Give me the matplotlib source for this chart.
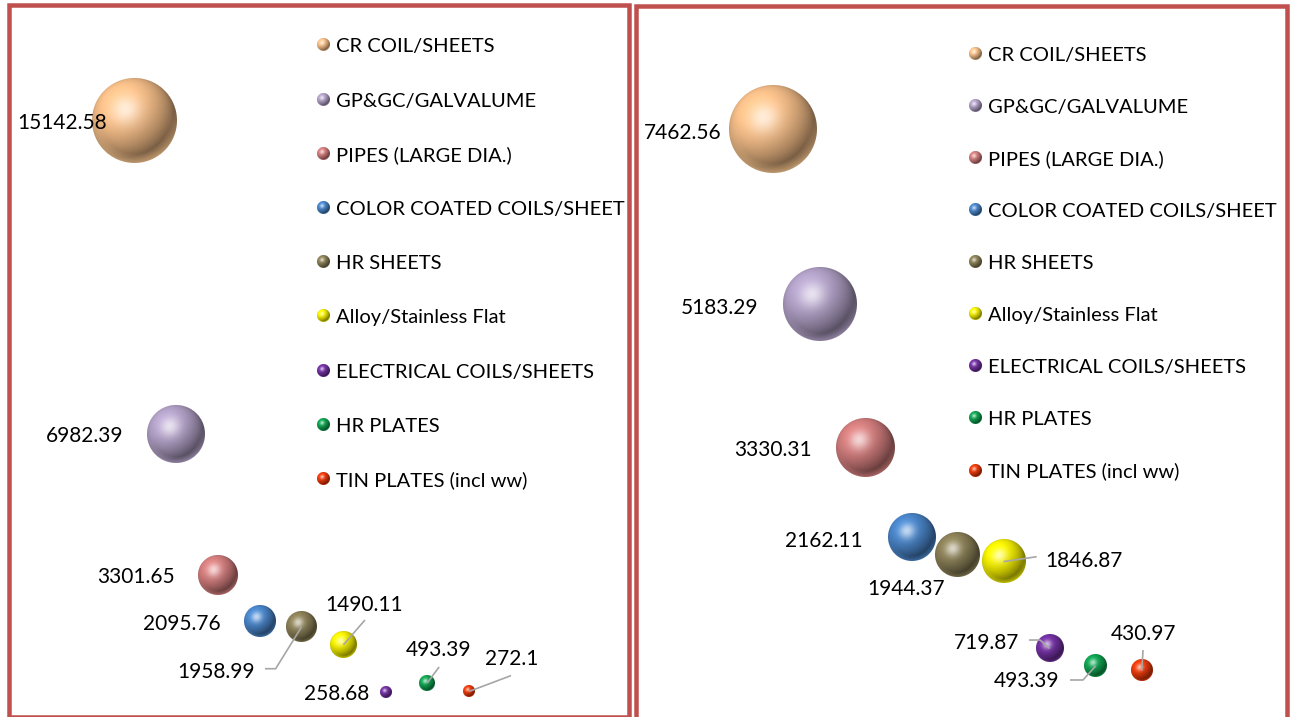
import numpy as np
import matplotlib
matplotlib.use("Agg")
import matplotlib.pyplot as plt
import matplotlib.colors as mcolors
import matplotlib.transforms as mtransforms
from matplotlib.lines import Line2D
from matplotlib.offsetbox import OffsetImage, AnnotationBbox
from matplotlib.patches import Rectangle

plt.rcParams["font.family"] = ["Lato", "DejaVu Sans"]

categories = [
    "CR COIL/SHEETS",
    "GP&GC/GALVALUME",
    "PIPES (LARGE DIA.)",
    "COLOR COATED COILS/SHEET",
    "HR SHEETS",
    "Alloy/Stainless Flat",
    "ELECTRICAL COILS/SHEETS",
    "HR PLATES",
    "TIN PLATES (incl ww)",
]
left_values = [15142.58, 6982.39, 3301.65, 2095.76, 1958.99, 1490.11, 258.68, 493.39, 272.1]
right_values = [7462.56, 5183.29, 3330.31, 2162.11, 1944.37, 1846.87, 719.87, 493.39, 430.97]

colors = ["#F8C08A", "#B3A2C8", "#D47E7E", "#4A86CA", "#8C8158",
          "#F5F000", "#7431A4", "#0FA451", "#EE3A0A"]

W, H, DPI = 1295, 717, 100
FS = 15
LEGEND_FS = 14.5
LEADER = "#A6A6A6"

# label offsets from bubble centre, pixels (x right, y down), and alignment
left_labels = [(-27.6, 1, "right"), (-53, 1, "right"), (-43, 0, "right"),
               (-39, 1.5, "right"), (-46.7, 44, "right"), (21, -41.7, "center"),
               (-16, 0.7, "right"), (11, -34, "center"), (43, -33.5, "center")]
left_leaders = {4: [(0, 0), (-26, 42), (-36.7, 42)],
                5: [(0, 0), (21.5, -24.7)],
                7: [(0, 0), (12, -16)],
                8: [(0, 0), (43.8, -16.5)]}
right_labels = [(-51.4, 2.7, "right"), (-61.4, 2, "right"), (-53.8, 0.7, "right"),
                (-48.5, 1.7, "right"), (-51, 33, "center"), (41.4, -2.6, "left"),
                (-30.6, -6.7, "right"), (-36.7, 14, "right"), (1.7, -38, "center")]
right_leaders = {5: [(0, 0), (33.1, -4.9)],
                 6: [(0, 0), (-9.6, -8.4), (-20.6, -8.4)],
                 7: [(0, 0), (-12.7, 14.1), (-25.7, 14.1)],
                 8: [(0, 0), (1.3, -20.7)]}


def sphere_rgba(color, n):
    base = np.array(mcolors.to_rgb(color))
    t = (np.arange(n) + 0.5) / n * 2 - 1
    u, v = np.meshgrid(t, t)
    r = np.hypot(u, v)
    nz = np.sqrt(np.clip(1 - r ** 2, 0, 1))
    light = np.array([-0.4, 0.5, 0.77])
    light /= np.linalg.norm(light)
    diff = np.clip(u * light[0] - v * light[1] + nz * light[2], 0, 1)
    half = light + np.array([0, 0, 1.0])
    half /= np.linalg.norm(half)
    spec = np.clip(u * half[0] - v * half[1] + nz * half[2], 0, 1) ** 18
    shade = 0.5 + 0.58 * diff
    rgb = base * shade[..., None]
    rgb = rgb + (1 - rgb) * (0.65 * spec)[..., None]
    rim = np.clip((r - 0.78) / 0.22, 0, 1) * np.clip(v + 0.2, 0, 1)
    rgb = rgb * (1 - 0.5 * rim[..., None]) + np.clip(base * 1.08, 0, 1) * 0.5 * rim[..., None]
    rgb = np.clip(rgb, 0, 1)
    alpha = np.clip((1 - r) * n / 6 + 0.5, 0, 1)
    return np.dstack([rgb, alpha])


def add_sphere(ax, xy, d, color, coords="data"):
    n = max(int(round(d * 3)), 9)
    img = OffsetImage(sphere_rgba(color, n), zoom=d / n * 72 / DPI)
    ab = AnnotationBbox(img, xy, xycoords=coords, frameon=False, pad=0,
                        box_alignment=(0.5, 0.5), zorder=3)
    ax.add_artist(ab)


def draw_panel(ax, values, ymax, max_diam, labels, leaders):
    ax.set_xlim(0, 10)
    ax.set_ylim(0, ymax)
    ax.axis("off")
    xs = np.arange(1, len(values) + 1)
    diam = max_diam * np.sqrt(np.array(values) / max(values))
    ax.scatter(xs, values, s=(0.85 * diam * 72 / DPI) ** 2, c=colors,
               linewidths=0, zorder=2)
    for i, (x, v, d) in enumerate(zip(xs, values, diam)):
        add_sphere(ax, (x, v), d, colors[i])
        dx, dy, ha = labels[i]
        ax.annotate(f"{v}", (x, v), xytext=(dx, -(dy + 7.5)),
                    textcoords="offset pixels", ha=ha, va="baseline",
                    fontsize=FS, color="black", zorder=5)
        if i in leaders:
            pts = np.array(leaders[i])
            tr = mtransforms.Affine2D().scale(1, -1) + \
                mtransforms.ScaledTranslation(x, v, ax.transData)
            ax.add_line(Line2D(pts[:, 0], pts[:, 1], transform=tr, color=LEADER,
                               lw=1.2, zorder=4, solid_capstyle="butt"))


def draw_legend(fig, marker_x, text_x, first_y, step):
    for i, name in enumerate(categories):
        y = first_y + i * step
        add_sphere(fig.axes[0], (marker_x, H - y), 13, colors[i], coords="figure pixels")
        fig.text(text_x / W, 1 - (y + 7.3) / H, name, fontsize=LEGEND_FS,
                 va="baseline", ha="left", color="black")


def px_rect(x0, top, w, h):
    return [x0 / W, 1 - (top + h) / H, w / W, h / H]


fig = plt.figure(figsize=(W / DPI, H / DPI), dpi=DPI)
ax1 = fig.add_axes(px_rect(92.5, 11.1, 418.3, 690.8))
ax2 = fig.add_axes(px_rect(727.3, 10.5, 460.5, 693.4))

draw_panel(ax1, left_values, 18000, 85, left_labels, left_leaders)
draw_panel(ax2, right_values, 9000, 88, right_labels, right_leaders)

draw_legend(fig, 323.3, 336, 45, 54.2)
draw_legend(fig, 975, 988.3, 53.3, 52.1)

# panel frames
border = "#C0504D"
for x0, x1, bottom in [(8.5, 628.5, 717.5), (635.5, 1287.5, 725)]:
    fig.add_artist(Rectangle((x0 / W, 1 - bottom / H), (x1 - x0) / W, (bottom - 5.5) / H,
                             transform=fig.transFigure, fill=False, ec=border,
                             lw=4.5 * 72 / DPI, joinstyle="miter", zorder=0))

fig.savefig("out.png", dpi=DPI)
